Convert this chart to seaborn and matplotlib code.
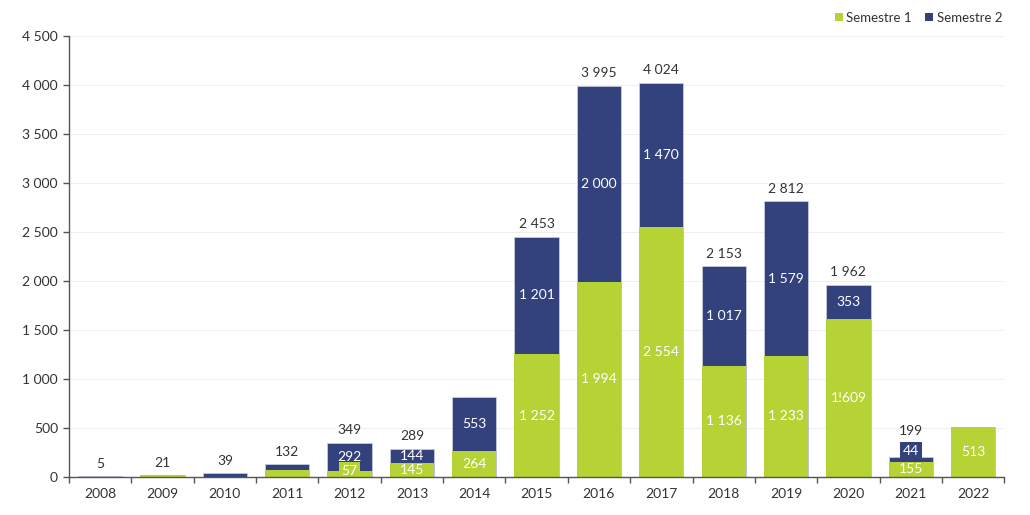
import matplotlib
matplotlib.use("Agg")
import matplotlib.pyplot as plt
import seaborn as sns
import numpy as np
import pandas as pd
from matplotlib.patches import Patch

years = ["2008", "2009", "2010", "2011", "2012", "2013", "2014", "2015",
         "2016", "2017", "2018", "2019", "2020", "2021", "2022"]
sem1 = [0, 16, 2, 75, 57, 145, 264, 1252, 1994, 2554, 1136, 1233, 1609, 155, 513]
sem2 = [5, 5, 37, 57, 292, 144, 553, 1201, 2000, 1470, 1017, 1579, 353, 44, 0]
sem1_labels = ["", "", "", "", "57", "145", "264", "1 252", "1 994", "2 554",
               "1 136", "1 233", "1!609", "155", "513"]
sem2_labels = ["", "", "", "", "292", "144", "553", "1 201", "2 000", "1 470",
               "1 017", "1 579", "353", "44", ""]
total_labels = ["5", "21", "39", "132", "349", "289", "", "2 453", "3 995",
                "4 024", "2 153", "2 812", "1 962", "199", ""]
yticks = [0, 500, 1000, 1500, 2000, 2500, 3000, 3500, 4000, 4500]

green = "#b5d334"
navy = "#33427c"
txt = "#333333"

sns.set_theme(style="white")
plt.rcParams["font.family"] = ["Lato", "DejaVu Sans"]

df = pd.DataFrame({"year": years, "s1": sem1, "s2": sem2})
df["total"] = df["s1"] + df["s2"]

fig = plt.figure(figsize=(10.3, 5.15), dpi=100)
ax = fig.add_axes([0.067, 0.074, 0.908, 0.856])

sns.barplot(data=df, x="year", y="total", color=navy, width=0.71, ax=ax,
            saturation=1, edgecolor="#d0d4e4", linewidth=0.5, zorder=2)
sns.barplot(data=df, x="year", y="s1", color=green, width=0.71, ax=ax,
            saturation=1, linewidth=0, zorder=3)

fs = 10
small = 100
for i in range(len(years)):
    s1, s2 = sem1[i], sem2[i]
    y1 = max(s1 / 2, 60)
    top = s1 + s2
    if sem1_labels[i]:
        box = dict(boxstyle="square,pad=0.2", fc=green, ec="none") if s1 < small else None
        ax.text(i, y1, sem1_labels[i], ha="center", va="center", color="white",
                fontsize=fs, zorder=5, bbox=box, clip_on=True)
    ref = top
    if sem2_labels[i]:
        if s2 < small:
            y2 = y1 + 185
            box = dict(boxstyle="square,pad=0.2", fc=navy, ec="none")
        else:
            y2 = s1 + s2 / 2
            box = None
        ax.text(i, y2, sem2_labels[i], ha="center", va="center", color="white",
                fontsize=fs, zorder=5, bbox=box)
        ref = max(top, y2 + 80)
    if total_labels[i]:
        ax.text(i, ref + 125, total_labels[i], ha="center", va="center",
                color=txt, fontsize=fs, zorder=5)

ax.set_xlim(-0.5, len(years) - 0.5)
ax.set_ylim(0, 4500)
ax.set_yticks(yticks)
ax.set_yticklabels([f"{v:,}".replace(",", " ") for v in yticks])
ax.set_xlabel("")
ax.set_ylabel("")
ax.grid(axis="y", color="#efefef", linewidth=0.8, zorder=0)
ax.set_axisbelow(True)

for s in ["top", "right"]:
    ax.spines[s].set_visible(False)
for s in ["left", "bottom"]:
    ax.spines[s].set_color("#555555")
    ax.spines[s].set_linewidth(1.0)
    ax.spines[s].set_zorder(6)

ax.tick_params(axis="y", which="major", length=4, width=1, color="#555555",
               labelsize=fs, labelcolor=txt, left=True, pad=4)
ax.tick_params(axis="x", which="major", length=0, labelsize=fs,
               labelcolor=txt, pad=8)
ax.set_xticks(np.arange(-0.5, len(years), 1.0), minor=True)
ax.tick_params(axis="x", which="minor", length=4, width=1, color="#555555",
               bottom=True)

handles = [Patch(facecolor=green, edgecolor="none", label="Semestre 1"),
           Patch(facecolor=navy, edgecolor="none", label="Semestre 2")]
fig.legend(handles=handles, loc="upper right", bbox_to_anchor=(0.985, 1.0),
           ncol=2, frameon=False, fontsize=9.5, handlelength=0.6,
           handleheight=0.6, handletextpad=0.3, columnspacing=1.0,
           labelcolor=txt)

fig.savefig("out.png", dpi=100, facecolor="white")
